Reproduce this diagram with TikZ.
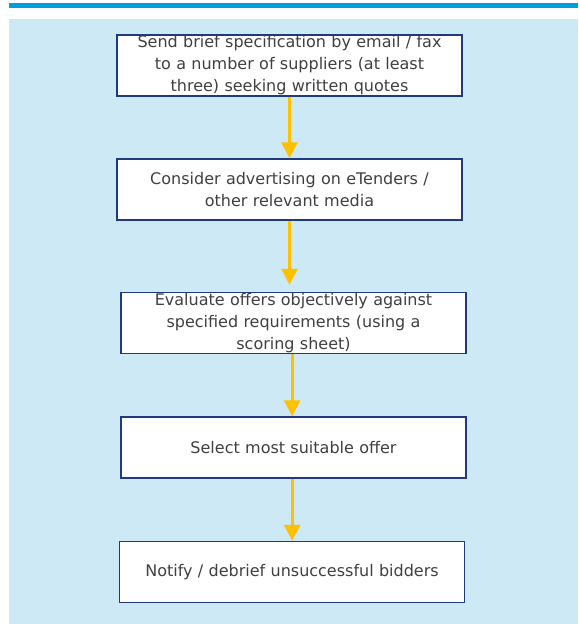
\documentclass[tikz,border=0pt]{standalone}
\usepackage{fontspec}
\setsansfont{DejaVu Sans}
\usetikzlibrary{arrows.meta, positioning}

\definecolor{panelblue}{RGB}{204,233,245}
\definecolor{barblue}{RGB}{0,160,224}
\definecolor{boxnavy}{RGB}{31,58,125}
\definecolor{arrowamber}{RGB}{255,192,0}
\definecolor{textgrey}{RGB}{64,64,64}

\begin{document}
\begin{tikzpicture}[>={Triangle[width=12pt, length=12pt]}, x=0.75pt, y=-0.75pt,
    font=\sffamily\fontsize{12}{16.5}\selectfont,
    stage/.style={draw=boxnavy, line width=1.1pt, fill=white, text=textgrey,
      minimum height=45.75pt, inner ysep=0pt, inner xsep=2pt,
      text width=254.75pt, align=center},
    flow/.style={->, draw=arrowamber, line width=2.25pt}]
    \useasboundingbox (0,0) rectangle (578,624);
    \fill[barblue] (9,2.7) rectangle (578,8.3);
    \fill[panelblue] (9,19) rectangle (578,624);

    \node[stage] (send-spec) at (289.5,65.5) {Send brief specification by email / fax\\
      to a number of suppliers (at least\\ three) seeking written quotes};
    \node[stage] (advertise) at (289.5,189.5) {Consider advertising on eTenders /\\
      other relevant media};
    \node[stage] (evaluate) at (293.5,323) {Evaluate offers objectively against\\
      specified requirements (using a\\ scoring sheet)};
    \node[stage] (select) at (293.5,447.5) {Select most suitable offer};
    \node[stage] (notify) at (292,572) {Notify / debrief unsuccessful bidders};

    \draw[flow] (send-spec.south) -- (send-spec.south |- advertise.north);
    \draw[flow, shorten >=5.25pt] (advertise.south) -- (advertise.south |- evaluate.north);
    % \draw[flow] (evaluate) -- (select);
    \draw[flow] ([xshift=-1pt]evaluate.south) -- ([xshift=-1pt]evaluate.south |- select.north);
    \draw[flow] ([xshift=-1pt]select.south) -- ([xshift=-1pt]select.south |- notify.north);
\end{tikzpicture}
\end{document}
